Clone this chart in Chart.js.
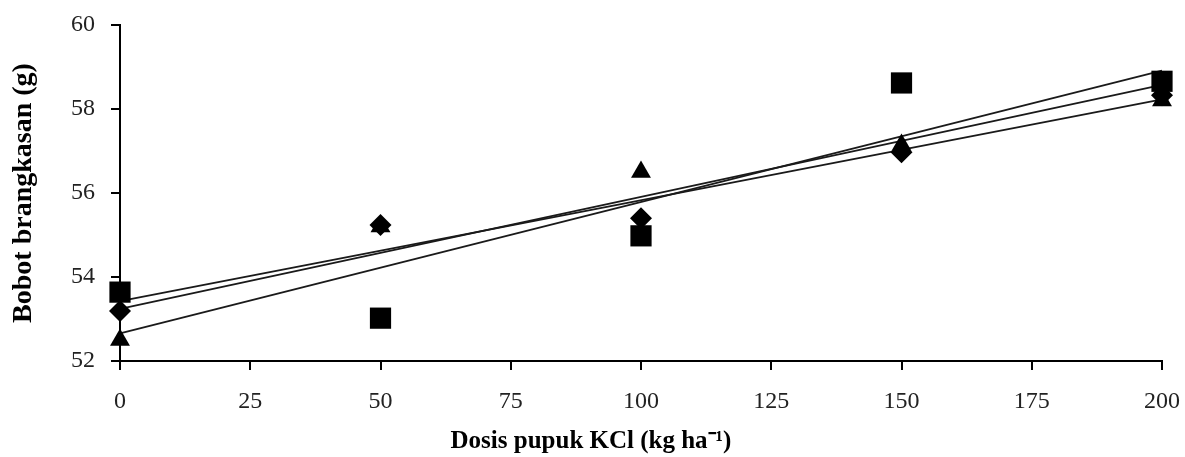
<!DOCTYPE html>
<html>
<head>
<meta charset="utf-8">
<script src="https://cdn.jsdelivr.net/npm/chart.js@4.4.1/dist/chart.umd.min.js"></script>
<style>
  html, body { margin: 0; padding: 0; background: #fff; }
  #wrap { width: 1185px; height: 457px; }
</style>
</head>
<body>
<div id="wrap"><canvas id="myChart" width="1185" height="457"></canvas></div>
<script>
// KCl dose (kg/ha)
const doses = [0, 50, 100, 150, 200];
// shoot weight per treatment series (g)
const seriesSquare = [53.64, 53.02, 54.98, 58.62, 58.66];
const seriesDiamond = [53.19, 55.24, 55.40, 56.97, 58.33];
const seriesTriangle = [52.50, 55.20, 56.50, 57.14, 58.20];
const yTicks = [52, 54, 56, 58, 60];
const xTicks = [0, 25, 50, 75, 100, 125, 150, 175, 200];

// simple least squares line through a series
function fitLine(xs, ys) {
  const n = xs.length;
  const mx = xs.reduce((a, b) => a + b, 0) / n;
  const my = ys.reduce((a, b) => a + b, 0) / n;
  let sxy = 0, sxx = 0;
  for (let i = 0; i < n; i++) {
    sxy += (xs[i] - mx) * (ys[i] - my);
    sxx += (xs[i] - mx) * (xs[i] - mx);
  }
  const slope = sxy / sxx;
  const icpt = my - slope * mx;
  const x0 = xs[0], x1 = xs[n - 1];
  return [{ x: x0, y: icpt + slope * x0 }, { x: x1, y: icpt + slope * x1 }];
}

const toPoints = ys => doses.map((d, i) => ({ x: d, y: ys[i] }));

const pointSet = (ys, style, radius) => ({
  data: toPoints(ys),
  showLine: false,
  pointStyle: style,
  pointRadius: radius,
  pointHoverRadius: radius,
  backgroundColor: '#000',
  borderColor: '#000',
  borderWidth: 0,
  clip: false
});

const trendSet = ys => ({
  data: fitLine(doses, ys),
  showLine: true,
  pointRadius: 0,
  borderColor: '#1a1a1a',
  borderWidth: 1.8,
  fill: false,
  clip: false
});

const serif = '"Liberation Serif", "Times New Roman", serif';
const tickFont = { family: serif, size: 24 };

const ctx1 = document.getElementById('myChart').getContext('2d');
new Chart(ctx1, {
  type: 'scatter',
  data: {
    datasets: [
      pointSet(seriesSquare, 'rect', 15),
      pointSet(seriesDiamond, 'rectRot', 11),
      pointSet(seriesTriangle, 'triangle', 11.5),
      trendSet(seriesSquare),
      trendSet(seriesDiamond),
      trendSet(seriesTriangle)
    ]
  },
  options: {
    responsive: false,
    animation: false,
    layout: { padding: { left: 0, right: 23, top: 25, bottom: 0 } },
    plugins: { legend: { display: false }, tooltip: { enabled: false } },
    scales: {
      x: {
        type: 'linear',
        min: 0,
        max: 200,
        afterBuildTicks: scale => { scale.ticks = xTicks.map(v => ({ value: v })); },
        afterFit: scale => {
          scale.height = 96;
          scale.paddingLeft = 0;
          scale.paddingRight = 0;
        },
        grid: { drawOnChartArea: false, drawTicks: true, tickLength: 9, color: '#000', lineWidth: 2 },
        border: { display: true, color: '#000', width: 2 },
        ticks: { color: '#222', font: tickFont, padding: 17, maxRotation: 0 },
        title: {
          display: true,
          // trailing en spaces push the centred title a bit left, as in the source figure
          text: 'Dosis pupuk KCl (kg ha⁻¹)\u2002\u2002\u2002\u2002\u2002\u2002\u2002\u2002',
          color: '#000',
          font: { family: serif, size: 25, weight: 'bold' },
          padding: { top: 4, bottom: 0 }
        }
      },
      y: {
        type: 'linear',
        min: 52,
        max: 60,
        afterBuildTicks: scale => { scale.ticks = yTicks.map(v => ({ value: v })); },
        afterFit: scale => {
          scale.width = 120;
          scale.paddingTop = 0;
          scale.paddingBottom = 0;
        },
        grid: { drawOnChartArea: false, drawTicks: true, tickLength: 9, color: '#000', lineWidth: 2 },
        border: { display: true, color: '#000', width: 2 },
        ticks: { color: '#222', font: tickFont, padding: 16 },
        title: {
          display: true,
          text: 'Bobot brangkasan (g)',
          color: '#000',
          font: { family: serif, size: 28, weight: 'bold' },
          padding: { top: 7, bottom: 0 }
        }
      }
    }
  }
});
</script>
</body>
</html>
